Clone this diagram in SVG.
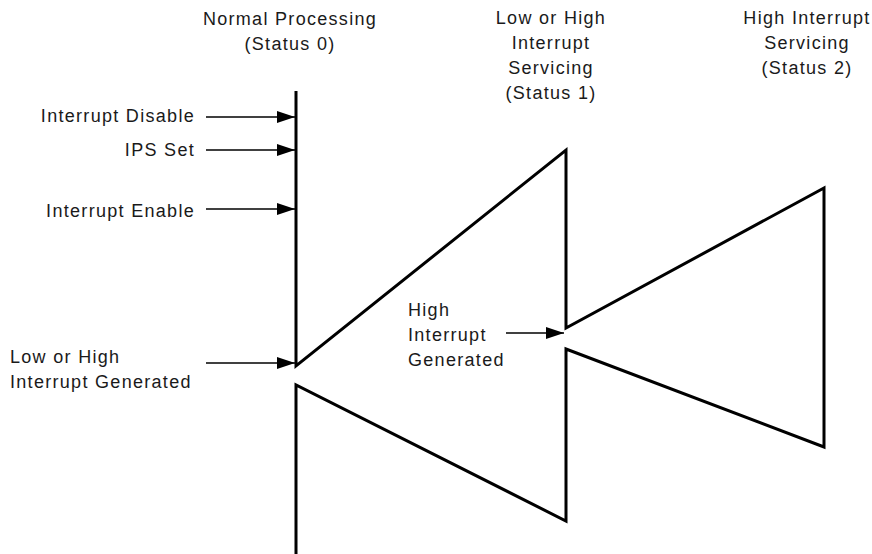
<svg xmlns="http://www.w3.org/2000/svg" width="872" height="554" viewBox="0 0 872 554">
<style>
text{font-family:"Liberation Sans",Arial,sans-serif;font-size:18px;fill:#1a1a1a;letter-spacing:1.3px}
.mid{text-anchor:middle}
.end{text-anchor:end}
.wave{fill:none;stroke:#000;stroke-width:3;stroke-linejoin:miter}
.arr{stroke:#000;stroke-width:1.3;fill:none;marker-end:url(#ah)}
</style>
<defs>
<marker id="ah" markerUnits="userSpaceOnUse" markerWidth="19" markerHeight="13" refX="18" refY="6" orient="auto">
<path d="M0,0 L18,6 L0,12 z" fill="#000"/>
</marker>
</defs>
<rect width="872" height="554" fill="#fff"/>
<g id="status0-title">
<text class="mid" x="290" y="25">Normal Processing</text>
<text class="mid" x="290" y="50">(Status 0)</text>
</g>
<g id="status1-title">
<text class="mid" x="551" y="24">Low or High</text>
<text class="mid" x="551" y="49">Interrupt</text>
<text class="mid" x="551" y="74">Servicing</text>
<text class="mid" x="551" y="99">(Status 1)</text>
</g>
<g id="status2-title">
<text class="mid" x="807" y="24">High Interrupt</text>
<text class="mid" x="807" y="49">Servicing</text>
<text class="mid" x="807" y="74">(Status 2)</text>
</g>
<g id="waveform">
<path class="wave" d="M296,91 V366 L566,150 V328 L824,188 V447 L566,349 V521 L296,385 V554"/>
</g>
<g id="label-disable"><text class="end" x="195" y="122">Interrupt Disable</text></g>
<g id="label-ips"><text class="end" x="195" y="156">IPS Set</text></g>
<g id="label-enable"><text class="end" x="195" y="217">Interrupt Enable</text></g>
<g id="label-lowhigh">
<text x="10" y="363">Low or High</text>
<text x="10" y="388">Interrupt Generated</text>
</g>
<g id="label-high">
<text x="408" y="316">High</text>
<text x="408" y="341">Interrupt</text>
<text x="408" y="366">Generated</text>
</g>
<g id="connectors">
<line class="arr" x1="206" y1="117" x2="295" y2="117"/>
<line class="arr" x1="206" y1="150" x2="295" y2="150"/>
<line class="arr" x1="206" y1="209" x2="295" y2="209"/>
<line class="arr" x1="206" y1="363" x2="295" y2="363"/>
<line class="arr" x1="506" y1="333" x2="564" y2="333"/>
</g>
</svg>
